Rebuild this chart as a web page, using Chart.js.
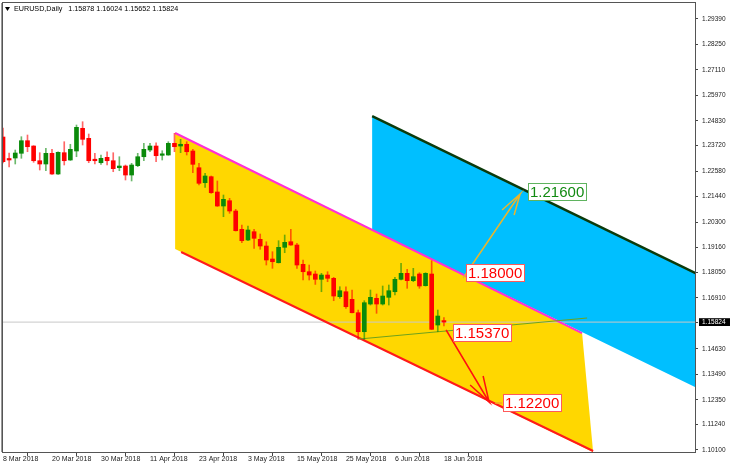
<!DOCTYPE html>
<html><head><meta charset="utf-8">
<script src="https://cdn.jsdelivr.net/npm/chart.js@4.4.1/dist/chart.umd.min.js"></script>
<style>html,body{margin:0;padding:0;background:#fff;}canvas{display:block;}</style>
</head><body>
<canvas id="c" width="730" height="468"></canvas>
<script>
// ---------- DATA ----------
const symbolTitle = 'EURUSD,Daily';
const lastBarValues = ['1.15878', '1.16024', '1.15652', '1.15824'];

const opens = [1.24108,1.23124,1.23168,1.23379,1.23943,1.23705,1.23047,1.22900,1.23379,1.22452,
1.23406,1.23079,1.23482,1.24498,1.24050,1.23110,1.22958,1.23200,1.23047,1.22734,
1.22810,1.22407,1.22824,1.23226,1.23526,1.23705,1.23288,1.23303,1.23826,1.23705,
1.23782,1.23482,1.22734,1.22063,1.22332,1.21647,1.21020,1.21257,1.20796,1.19977,
1.19498,1.19870,1.19529,1.19229,1.18648,1.18482,1.19171,1.19422,1.19274,1.18410,
1.18079,1.17976,1.17739,1.17931,1.17784,1.16961,1.17184,1.16844,1.16244,1.15394,
1.16633,1.16888,1.16633,1.16933,1.17184,1.17739,1.18007,1.17677,1.17976,1.17453,
1.17976,1.15693,1.15878];
const highs = [1.24511,1.23392,1.23526,1.24122,1.24198,1.23720,1.23406,1.23603,1.23558,1.23440,
1.23898,1.23782,1.24645,1.24793,1.24243,1.23379,1.23303,1.23450,1.23406,1.23226,
1.22855,1.22930,1.23379,1.23826,1.23826,1.23853,1.23495,1.23898,1.24274,1.24005,
1.23898,1.23558,1.22931,1.22483,1.22363,1.22140,1.21512,1.21363,1.20871,1.20169,
1.20124,1.19977,1.19767,1.19420,1.18975,1.19467,1.19722,1.19977,1.19350,1.18603,
1.18379,1.18110,1.18006,1.18079,1.17829,1.17408,1.17408,1.17260,1.16364,1.16781,
1.17260,1.17081,1.17439,1.17484,1.17829,1.18455,1.18186,1.18231,1.18034,1.18034,
1.18572,1.16365,1.16024];
const lows = [1.22945,1.22766,1.22900,1.23155,1.23450,1.22976,1.22631,1.22600,1.22430,1.22430,
1.22855,1.23060,1.23226,1.23750,1.22958,1.22900,1.22886,1.22855,1.22555,1.22600,
1.22184,1.22140,1.22780,1.23047,1.23450,1.23003,1.23079,1.23290,1.23450,1.23406,
1.23303,1.22510,1.21960,1.21857,1.21588,1.21000,1.20541,1.20693,1.19900,1.19380,
1.19470,1.19127,1.19082,1.18379,1.18231,1.18470,1.18930,1.19260,1.18231,1.17708,
1.17708,1.17510,1.17184,1.17632,1.16781,1.16890,1.16440,1.16230,1.15053,1.15053,
1.16588,1.16217,1.16588,1.16588,1.17036,1.17708,1.17336,1.17632,1.17336,1.17439,
1.15490,1.15394,1.15652];
const closes = [1.23003,1.23079,1.23392,1.23943,1.23674,1.23047,1.22900,1.23379,1.22452,1.23423,
1.23047,1.23558,1.24542,1.24005,1.23047,1.23047,1.23155,1.23047,1.22690,1.22810,
1.22407,1.22855,1.23226,1.23558,1.23705,1.23271,1.23315,1.23826,1.23674,1.23782,
1.23450,1.22886,1.22036,1.22363,1.21615,1.21020,1.21320,1.20796,1.19914,1.19467,
1.19946,1.19574,1.19229,1.18603,1.18527,1.19171,1.19395,1.19274,1.18379,1.18079,
1.17931,1.17739,1.17931,1.17784,1.16991,1.17229,1.16513,1.16244,1.15394,1.16692,
1.16933,1.16633,1.16991,1.17229,1.17739,1.18007,1.17677,1.17856,1.17439,1.18007,
1.15501,1.16096,1.15824];

const dateTickIdx = [0, 8, 16, 24, 32, 40, 48, 56, 64, 72];
const dateTickLabels = ['8 Mar 2018','20 Mar 2018','30 Mar 2018','11 Apr 2018','23 Apr 2018',
  '3 May 2018','15 May 2018','25 May 2018','6 Jun 2018','18 Jun 2018'];
const priceTicks = [1.29390,1.28250,1.27110,1.25970,1.24830,1.23720,1.22580,1.21440,1.20300,
  1.19160,1.18050,1.16910,1.14630,1.13490,1.12350,1.11240,1.10100];
const currentPrice = 1.15824;

// drawn objects, anchors as [bar index, price]
const blueChannel   = [[60.28,1.25048],[113.5,1.17956],[113.5,1.12854],[60.28,1.19946]];
const yellowChannel = [[28.11,1.24287],[94.56,1.15335],[96.36,1.10010],[28.11,1.19095]];
const upperLine     = [[28.11,1.24287],[94.56,1.15335]];
const lowerLine     = [[29.09,1.18961],[96.36,1.10054]];
const blueTopLine   = [[60.28,1.25048],[113.5,1.17956]];
const supportLine   = [[58.16,1.15067],[95.38,1.16007]];
const upArrow   = [[75.13,1.17797],[84.44,1.21557],[81.50,1.20841],[84.44,1.21557],[83.46,1.20617]];
const downArrow = [[72.36,1.15470],[79.38,1.12247],[76.28,1.13008],[79.38,1.12247],[78.40,1.13410]];
const targetMark = [[80.36,1.12202],[81.50,1.12202]];
const levelTexts = ['1.21600','1.18000','1.15370','1.12200'];
const levelIdx   = [85.75, 75.57, 73.55, 81.62];
const levelPrice = [1.21669, 1.18007, 1.15358, 1.12202];

// ---------- STYLE ----------
const FONT = '"Liberation Sans", Arial, sans-serif';
const UP = '#0a8a0a', DOWN = '#ff0000';
const levelStyle = [
  {text:'#128a12', border:'#5fb35f'},
  {text:'#ff0000', border:'#ff5a5a'},
  {text:'#ff0000', border:'#ff5a5a'},
  {text:'#ff0000', border:'#ff5a5a'}
];

const pts = a => a.map(p => ({x: p[0], y: p[1]}));
const isUp = i => closes[i] >= opens[i];
const barIdx = opens.map((_, i) => i);

function lineDs(points, color, width, order, extra) {
  return Object.assign({
    type: 'line', data: pts(points), borderColor: color, borderWidth: width,
    pointRadius: 0, pointHoverRadius: 0, tension: 0, fill: false, order: order
  }, extra || {});
}

const datasets = [
  lineDs(blueChannel, 'rgba(0,0,0,0)', 1, 20, {fill: 'shape', backgroundColor: '#00bfff'}),
  lineDs(yellowChannel, 'rgba(0,0,0,0)', 1, 19, {fill: 'shape', backgroundColor: '#ffd700'}),
  lineDs([[0, currentPrice],[113.5, currentPrice]], '#c8c8c8', 1, 18),
  lineDs(blueTopLine, '#0b3a0b', 2.5, 17),
  lineDs(upperLine, '#ff2fd6', 2, 17),
  lineDs(lowerLine, '#ff1a1a', 2, 17),
  lineDs(supportLine, '#6ea21e', 1, 16),
  {
    type: 'bar', data: barIdx.map(i => ({x: i, y: [lows[i], highs[i]]})),
    barThickness: 1, grouped: false, order: 4,
    backgroundColor: c => isUp(c.dataIndex) ? 'rgba(10,138,10,0.6)' : 'rgba(255,0,0,0.6)'
  },
  {
    type: 'bar', data: barIdx.map(i => ({x: i, y: [opens[i], closes[i]]})),
    barThickness: 4, grouped: false, order: 3, minBarLength: 1.5,
    backgroundColor: c => isUp(c.dataIndex) ? UP : DOWN
  },
  lineDs(upArrow, '#eab52c', 1.5, 2),
  lineDs(downArrow, '#ff1010', 1.5, 2),
  lineDs(targetMark, '#f5a623', 1.5, 2)
];

const overlayPlugin = {
  id: 'overlay',
  afterDatasetsDraw(chart) {
    const ctx = chart.ctx, xs = chart.scales.x, ys = chart.scales.y, ca = chart.chartArea;
    ctx.save();
    // level labels
    ctx.font = '15px ' + FONT;
    ctx.textBaseline = 'middle';
    levelTexts.forEach((t, k) => {
      const x = Math.round(xs.getPixelForValue(levelIdx[k]));
      const y = Math.round(ys.getPixelForValue(levelPrice[k]));
      const w = Math.ceil(ctx.measureText(t).width) + 4, h = 18;
      ctx.fillStyle = '#fff';
      ctx.fillRect(x, y - h / 2, w, h);
      ctx.strokeStyle = levelStyle[k].border;
      ctx.lineWidth = 1;
      ctx.strokeRect(x + 0.5, y - h / 2 + 0.5, w - 1, h - 1);
      ctx.fillStyle = levelStyle[k].text;
      ctx.fillText(t, x + 2, y + 1);
    });
    // frame
    ctx.strokeStyle = '#555';
    ctx.lineWidth = 1;
    ctx.strokeRect(ca.left - 0.5, ca.top - 0.5, ca.right - ca.left + 1, ca.bottom - ca.top + 1);
    ctx.strokeStyle = '#999';
    ctx.beginPath(); ctx.moveTo(ca.left - 1.5, ca.top); ctx.lineTo(ca.left - 1.5, ca.bottom); ctx.stroke();
    // header
    ctx.fillStyle = '#000';
    ctx.beginPath(); ctx.moveTo(5, 7); ctx.lineTo(10, 7); ctx.lineTo(7.5, 11); ctx.closePath(); ctx.fill();
    ctx.font = '7.2px ' + FONT;
    ctx.textBaseline = 'middle';
    ctx.fillText(symbolTitle, 14, 9.5);
    const tw = ctx.measureText(symbolTitle).width;
    ctx.fillText(lastBarValues.join(' '), 14 + tw + 6, 9.5);
    ctx.restore();
  }
};

new Chart(document.getElementById('c'), {
  type: 'bar',
  data: { datasets },
  options: {
    responsive: false, animation: false, devicePixelRatio: 1,
    layout: { padding: { left: 3, top: 3, right: 0, bottom: 0 } },
    plugins: { legend: { display: false }, tooltip: { enabled: false } },
    events: [],
    scales: {
      x: {
        type: 'linear', min: 0, max: 113, offset: false, position: 'bottom',
        afterBuildTicks: s => { s.ticks = dateTickIdx.map(v => ({value: v})); },
        afterFit: s => { s.height = 16; s.paddingLeft = 0; s.paddingRight = 0; },
        grid: { drawOnChartArea: false, drawTicks: true, tickLength: 4, color: '#444' },
        border: { display: false },
        ticks: { autoSkip: false, maxRotation: 0, align: 'start', padding: -1,
                 font: { family: FONT, size: 7 }, color: '#222',
                 callback: (v, i) => dateTickLabels[i] }
      },
      y: {
        type: 'linear', position: 'right', min: 1.10010, max: 1.30106,
        afterBuildTicks: s => { s.ticks = priceTicks.concat([currentPrice]).map(v => ({value: v})); },
        afterFit: s => { s.width = 35; s.paddingTop = 0; s.paddingBottom = 0; },
        grid: { drawOnChartArea: false, drawTicks: true, tickLength: 3, color: '#444' },
        border: { display: false },
        ticks: { autoSkip: false, padding: 4, font: { family: FONT, size: 6.5 },
                 color: c => (c.tick && c.tick.value === currentPrice) ? '#fff' : '#222',
                 showLabelBackdrop: true,
                 backdropColor: c => (c.tick && c.tick.value === currentPrice) ? '#000' : 'rgba(0,0,0,0)',
                 backdropPadding: { left: 3, right: 6, top: 0, bottom: 0 },
                 callback: v => Number(v).toFixed(5) }
      }
    }
  },
  plugins: [overlayPlugin]
});
</script>
</body></html>
